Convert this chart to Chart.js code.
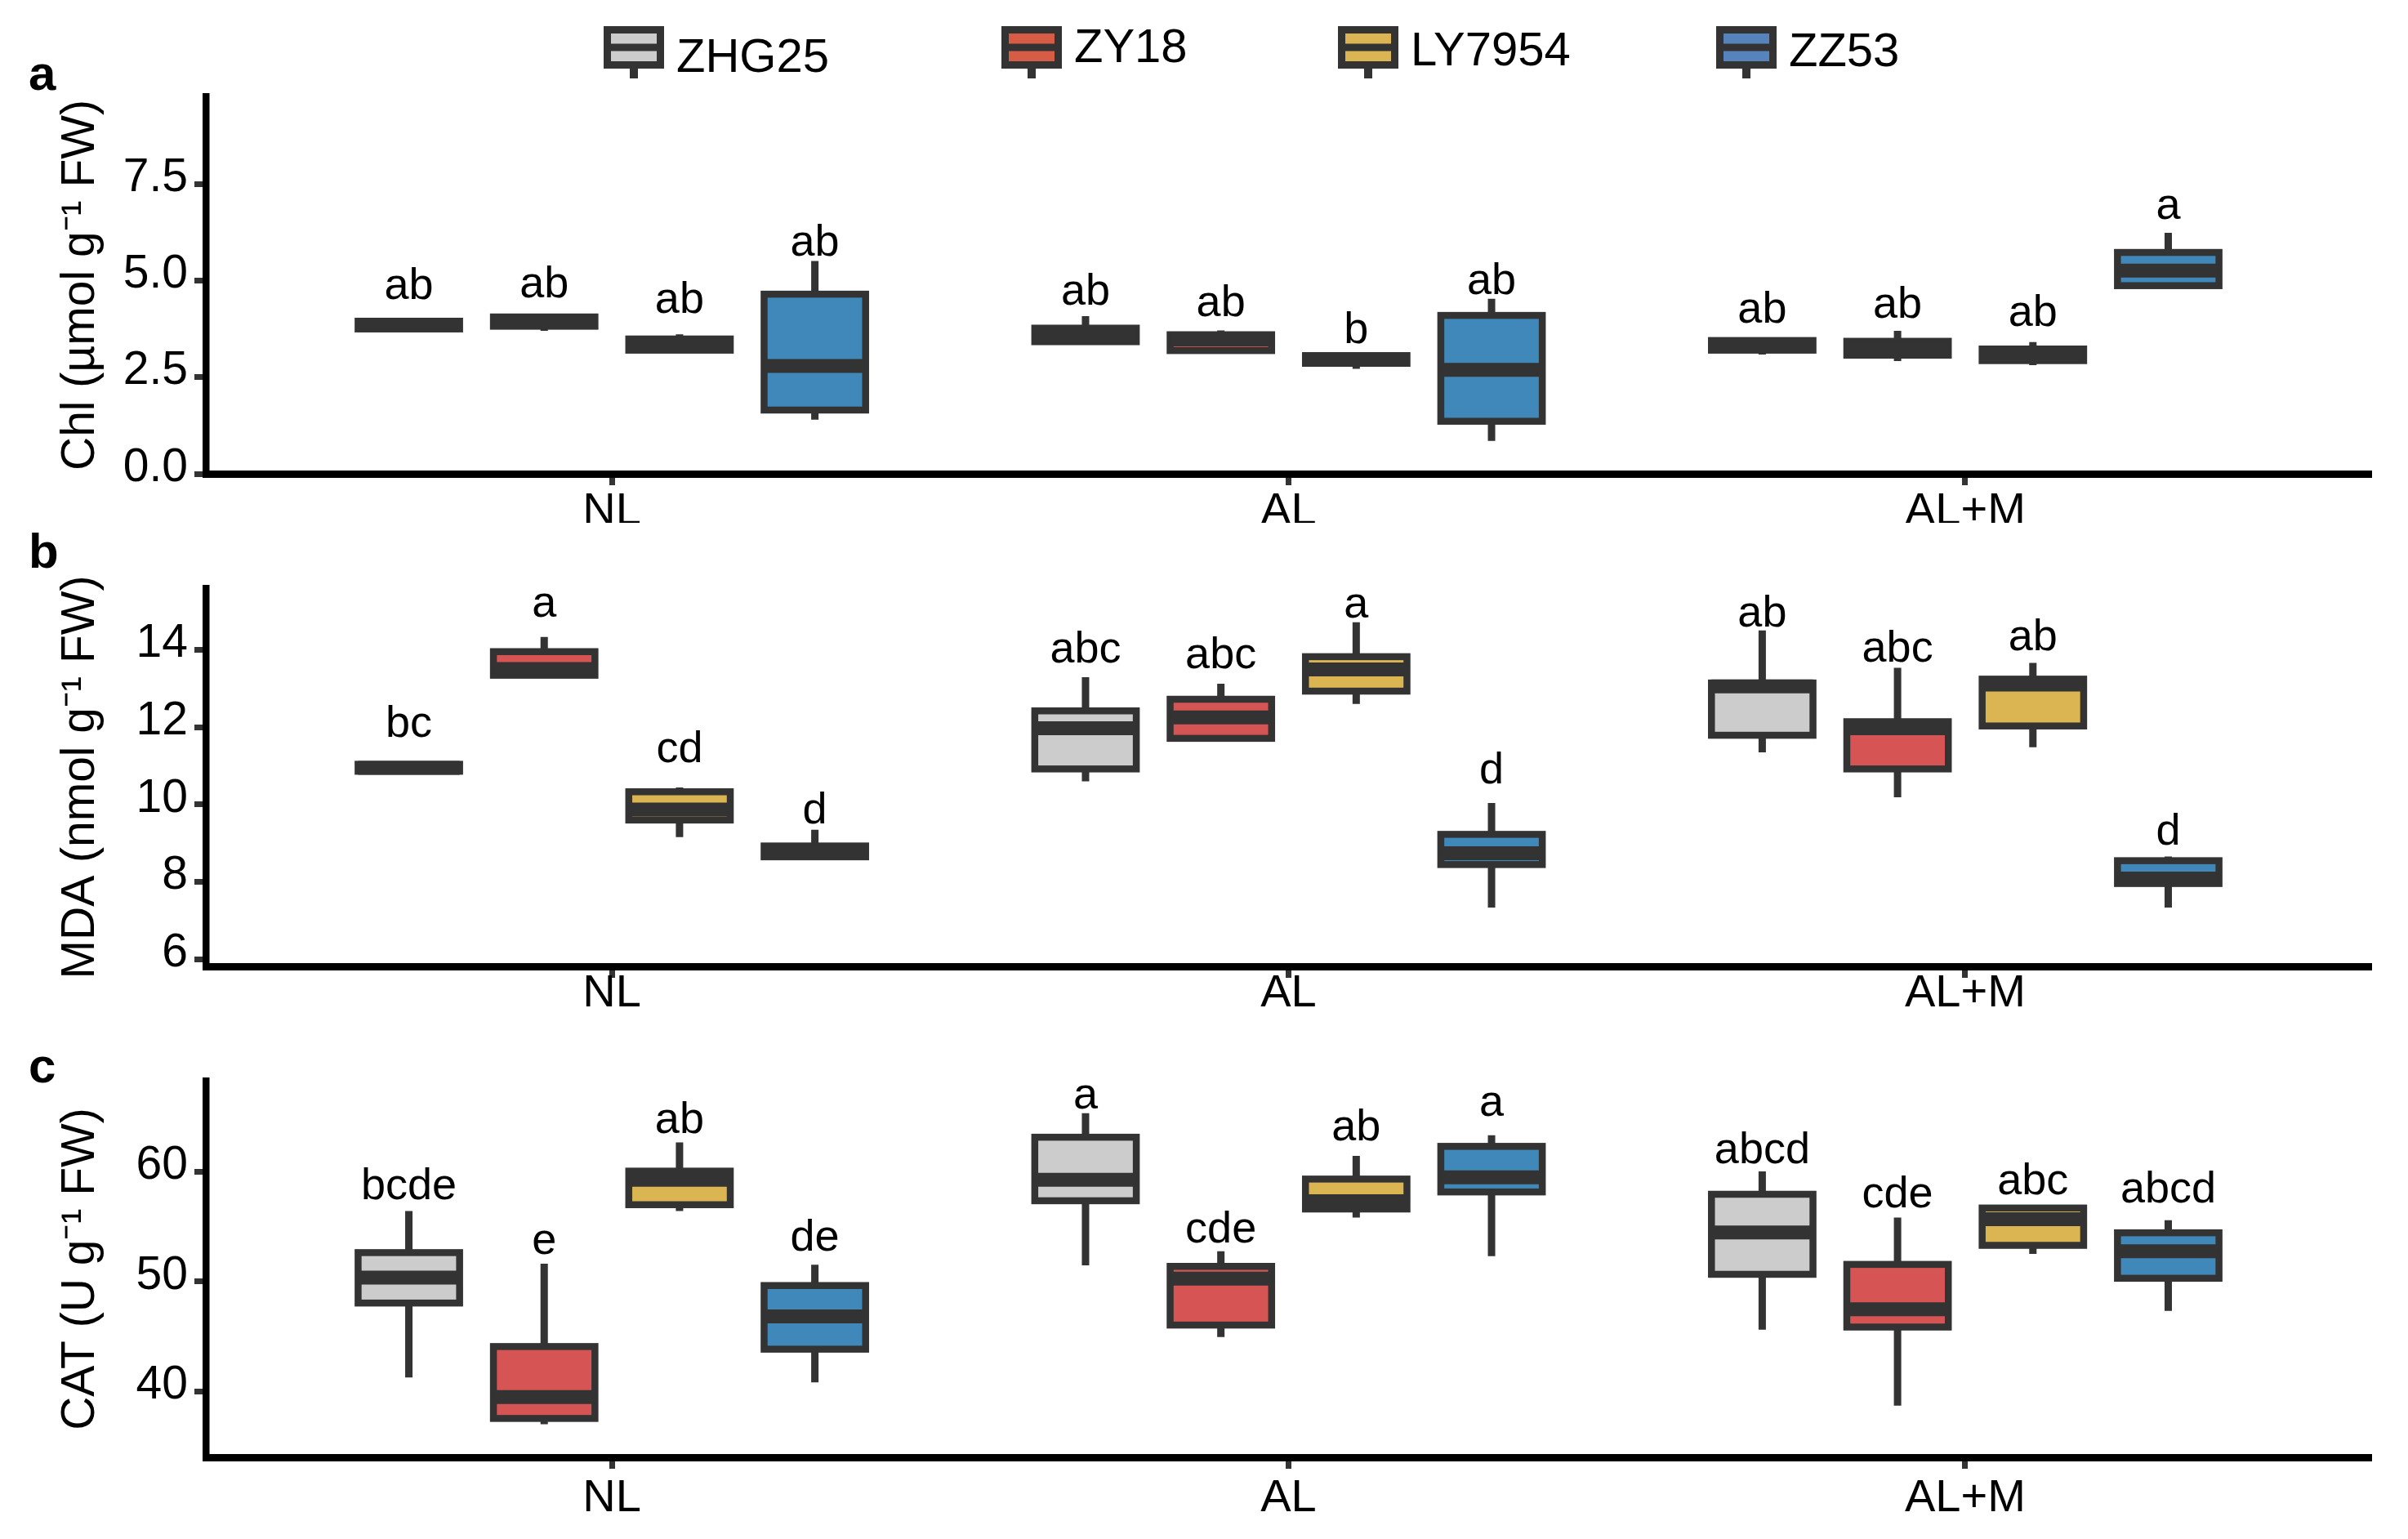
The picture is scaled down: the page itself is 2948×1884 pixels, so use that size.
<!DOCTYPE html>
<html>
<head>
<meta charset="utf-8">
<script src="https://cdn.jsdelivr.net/npm/chart.js@4.4.1/dist/chart.umd.min.js"></script>
<style>
  html, body { margin: 0; padding: 0; background: #fff; }
  body { width: 2948px; height: 1884px; position: relative; overflow: hidden; }
  .panel { position: absolute; left: 0; width: 2948px; }
</style>
</head>
<body>
<div class="panel" style="top:0;height:640px"><canvas id="chartA"></canvas></div>
<div class="panel" style="top:640px;height:600px"><canvas id="chartB"></canvas></div>
<div class="panel" style="top:1240px;height:644px"><canvas id="chartC"></canvas></div>
<script>
const FONT = "'Liberation Sans', Arial, sans-serif";
Chart.defaults.font.family = FONT;
Chart.defaults.color = '#000';

const groups = ['NL', 'AL', 'AL+M'];
const cultivars = ['ZHG25', 'ZY18', 'LY7954', 'ZZ53'];
const boxFills = ['#cccccc', '#d65454', '#dbb552', '#3f88b9'];
const legendFills = ['#cccccc', '#d65c45', '#dbb553', '#5683bb'];
const DARK = '#333333';

// rows = cultivars (ZHG25, ZY18, LY7954, ZZ53), columns = groups (NL, AL, AL+M)

// a: Chl (µmol g-1 FW)
const chlMin = [[3.72, 3.40, 3.09], [3.70, 3.17, 2.92], [3.18, 2.72, 2.81], [1.40, 0.85, 4.85]];
const chlQ1  = [[3.75, 3.42, 3.20], [3.82, 3.19, 3.07], [3.20, 2.86, 2.93], [1.65, 1.36, 4.87]];
const chlMed = [[3.85, 3.60, 3.33], [3.95, 3.48, 3.25], [3.35, 2.95, 3.10], [2.79, 2.69, 5.26]];
const chlQ3  = [[3.95, 3.77, 3.45], [4.06, 3.60, 3.43], [3.49, 3.06, 3.23], [4.65, 4.10, 5.73]];
const chlMax = [[3.98, 4.08, 3.46], [4.07, 3.71, 3.70], [3.61, 3.08, 3.41], [5.51, 4.53, 6.24]];
const chlLetters = [['ab', 'ab', 'ab'], ['ab', 'ab', 'ab'], ['ab', 'b', 'ab'], ['ab', 'ab', 'a']];
const chlLetterY = [[4.52, 4.37, 3.91], [4.56, 4.08, 4.04], [4.17, 3.39, 3.83], [5.64, 4.66, 6.59]];
const chlTicks = [0, 2.5, 5, 7.5];

// b: MDA (nmol g-1 FW)
const mdaMin = [[10.85, 10.60, 11.35], [13.33, 11.70, 10.19], [9.16, 12.60, 11.48], [8.63, 7.34, 7.34]];
const mdaQ1  = [[10.86, 10.92, 11.79], [13.34, 11.71, 10.92], [9.60, 12.93, 12.03], [8.65, 8.45, 7.96]];
const mdaMed = [[10.95, 11.97, 13.05], [13.50, 12.25, 11.97], [9.87, 13.49, 13.10], [8.80, 8.74, 8.09]];
const mdaQ3  = [[11.04, 12.42, 13.14], [13.95, 12.72, 12.14], [10.33, 13.82, 13.24], [8.93, 9.23, 8.55]];
const mdaMax = [[11.05, 13.29, 14.50], [14.33, 13.12, 13.53], [10.44, 14.71, 13.66], [9.35, 10.04, 8.66]];
const mdaLetters = [['bc', 'abc', 'ab'], ['a', 'abc', 'abc'], ['cd', 'a', 'ab'], ['d', 'd', 'd']];
const mdaLetterY = [[11.76, 13.66, 14.59], [14.86, 13.53, 13.70], [11.09, 14.84, 13.98], [9.52, 10.54, 8.96]];
const mdaTicks = [6, 8, 10, 12, 14];

// c: CAT (U g-1 FW)
const catMin = [[41.29, 51.47, 45.63], [37.04, 44.97, 38.74], [56.40, 55.81, 52.51], [40.84, 52.31, 47.34]];
const catQ1  = [[48.05, 57.34, 50.66], [37.57, 46.05, 45.87], [56.98, 56.59, 53.29], [43.86, 58.14, 50.30]];
const catMed = [[50.36, 59.25, 54.46], [39.52, 50.27, 47.49], [59.25, 57.30, 55.66], [46.83, 59.46, 52.75]];
const catQ3  = [[52.63, 63.11, 57.93], [44.10, 51.38, 51.56], [60.03, 59.31, 56.68], [49.64, 62.28, 54.43]];
const catMax = [[56.41, 65.30, 60.00], [51.62, 52.75, 55.81], [62.63, 61.41, 56.70], [51.53, 63.29, 55.57]];
const catLetters = [['bcde', 'a', 'abcd'], ['e', 'cde', 'cde'], ['ab', 'ab', 'abc'], ['de', 'a', 'abcd']];
const catLetterY = [[57.46, 65.69, 60.75], [52.51, 53.56, 56.71], [63.50, 62.84, 57.90], [52.81, 65.03, 57.16]];
const catTicks = [40, 50, 60];

// legend layout (page px)
const legendX = [739, 1226, 1638, 2101];
const legendTextY = [88, 76, 80, 81];

// draws whiskers, box outlines, medians, letters, panel tag and the legend
const boxDecor = {
  id: 'boxDecor',
  afterDatasetsDraw(chart) {
    const ctx = chart.ctx;
    const yScale = chart.scales.y;
    ctx.save();
    ctx.strokeStyle = DARK;
    ctx.lineCap = 'butt';
    chart.data.datasets.forEach((ds, di) => {
      chart.getDatasetMeta(di).data.forEach((bar, gi) => {
        const {x, y, base, width} = bar.getProps(['x', 'y', 'base', 'width'], true);
        const top = Math.min(y, base);
        const bottom = Math.max(y, base);
        const left = x - width / 2;
        const pMin = yScale.getPixelForValue(ds.whiskerMin[gi]);
        const pMax = yScale.getPixelForValue(ds.whiskerMax[gi]);
        const pMed = yScale.getPixelForValue(ds.median[gi]);

        ctx.lineWidth = 9;
        ctx.beginPath();
        ctx.moveTo(x, top); ctx.lineTo(x, pMax);
        ctx.moveTo(x, bottom); ctx.lineTo(x, pMin);
        ctx.stroke();

        ctx.lineWidth = 8.5;
        ctx.strokeRect(left, top, width, bottom - top);

        ctx.lineWidth = 17;
        ctx.beginPath();
        ctx.moveTo(left, pMed); ctx.lineTo(left + width, pMed);
        ctx.stroke();

        ctx.fillStyle = '#000';
        ctx.font = '54px ' + FONT;
        ctx.textAlign = 'center';
        ctx.textBaseline = 'alphabetic';
        ctx.fillText(ds.letters[gi], x, yScale.getPixelForValue(ds.letterAt[gi]));
      });
    });
    ctx.restore();
  },
  afterDraw(chart, args, opts) {
    const ctx = chart.ctx;
    ctx.save();
    ctx.fillStyle = '#000';
    ctx.font = 'bold 60px ' + FONT;
    ctx.textAlign = 'left';
    ctx.textBaseline = 'alphabetic';
    ctx.fillText(opts.tag, 35, opts.tagY);

    if (opts.legend) {
      chart.data.datasets.forEach((ds, i) => {
        const x0 = legendX[i];
        ctx.fillStyle = legendFills[i];
        ctx.fillRect(x0 + 4.5, 36.5, 65, 43);
        ctx.strokeStyle = DARK;
        ctx.lineWidth = 9;
        ctx.strokeRect(x0 + 4.5, 36.5, 65, 43);
        ctx.beginPath();
        ctx.moveTo(x0 + 4.5, 58); ctx.lineTo(x0 + 69.5, 58);
        ctx.stroke();
        ctx.lineWidth = 10;
        ctx.beginPath();
        ctx.moveTo(x0 + 37, 84); ctx.lineTo(x0 + 37, 96);
        ctx.stroke();
        ctx.fillStyle = '#000';
        ctx.font = '58px ' + FONT;
        ctx.fillText(ds.label, x0 + 89, legendTextY[i]);
      });
    }
    ctx.restore();
  }
};

const panels = [
  { canvas: 'chartA', tag: 'a', tagY: 110, legend: true, padTop: 118, xAxisH: 60, xPad: -1,
    title: 'Chl (µmol g⁻¹ FW)', yMin: 0, yMax: 9.77, ticks: chlTicks, digits: 1,
    min: chlMin, q1: chlQ1, med: chlMed, q3: chlQ3, max: chlMax, letters: chlLetters, letterY: chlLetterY },
  { canvas: 'chartB', tag: 'b', tagY: 55, legend: false, padTop: 80, xAxisH: 57, xPad: -14,
    title: 'MDA (nmol g⁻¹ FW)', yMin: 5.82, yMax: 15.59, ticks: mdaTicks, digits: 0,
    min: mdaMin, q1: mdaQ1, med: mdaMed, q3: mdaQ3, max: mdaMax, letters: mdaLetters, letterY: mdaLetterY },
  { canvas: 'chartC', tag: 'c', tagY: 85, legend: false, padTop: 83, xAxisH: 100, xPad: 3,
    title: 'CAT (U g⁻¹ FW)', yMin: 34.04, yMax: 68.24, ticks: catTicks, digits: 0,
    min: catMin, q1: catQ1, med: catMed, q3: catQ3, max: catMax, letters: catLetters, letterY: catLetterY }
];

function makeChart(p) {
  const datasets = cultivars.map((name, ci) => ({
    label: name,
    data: groups.map((g, gi) => ({ x: gi, y: [p.q1[ci][gi], p.q3[ci][gi]] })),
    whiskerMin: p.min[ci],
    whiskerMax: p.max[ci],
    median: p.med[ci],
    letters: p.letters[ci],
    letterAt: p.letterY[ci],
    backgroundColor: boxFills[ci],
    borderWidth: 0,
    barPercentage: 0.75,
    categoryPercentage: 0.8
  }));

  return new Chart(document.getElementById(p.canvas), {
    type: 'bar',
    data: { datasets },
    plugins: [boxDecor],
    options: {
      responsive: true,
      maintainAspectRatio: false,
      animation: false,
      layout: { padding: { top: p.padTop, right: 45, left: 0, bottom: 0 } },
      plugins: {
        legend: { display: false },
        tooltip: { enabled: false },
        boxDecor: { tag: p.tag, tagY: p.tagY, legend: p.legend }
      },
      scales: {
        x: {
          type: 'linear',
          min: -0.6,
          max: 2.6,
          offset: false,
          afterBuildTicks: s => { s.ticks = groups.map((g, i) => ({ value: i })); },
          afterFit: s => { s.height = p.xAxisH; },
          ticks: {
            callback: v => groups[v],
            font: { size: 56 },
            color: '#000',
            padding: p.xPad,
            maxRotation: 0,
            autoSkip: false
          },
          grid: { display: true, offset: false, drawOnChartArea: false, drawTicks: true, tickLength: 14, tickWidth: 7, tickColor: DARK },
          border: { display: true, color: '#000', width: 9 }
        },
        y: {
          type: 'linear',
          min: p.yMin,
          max: p.yMax,
          beginAtZero: false,
          afterBuildTicks: s => { s.ticks = p.ticks.map(v => ({ value: v })); },
          afterFit: s => { s.width = 252; },
          ticks: {
            callback: v => Number(v).toFixed(p.digits),
            font: { size: 57 },
            color: '#000',
            padding: 8,
            labelOffset: -7
          },
          grid: { display: true, drawOnChartArea: false, drawTicks: true, tickLength: 14, tickWidth: 7, tickColor: DARK },
          border: { display: true, color: '#000', width: 8.5 },
          title: {
            display: true,
            text: p.title,
            font: { size: 57, lineHeight: 1 },
            color: '#000',
            padding: { top: 71, bottom: 0 }
          }
        }
      }
    }
  });
}

panels.forEach(makeChart);
</script>
</body>
</html>
